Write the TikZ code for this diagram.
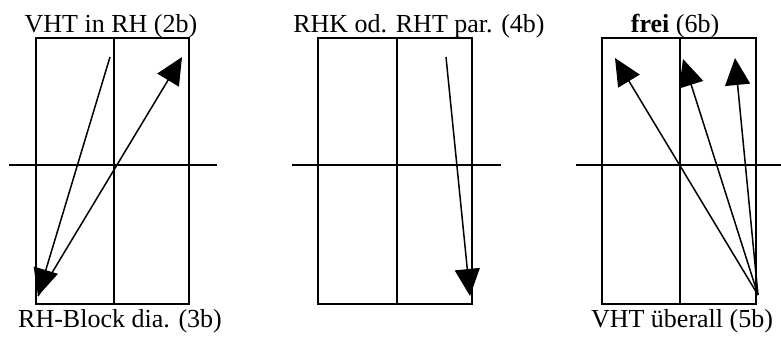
\documentclass[tikz,border=0pt]{standalone}
\usepackage{fontspec}
\setmainfont{Liberation Serif}
\usetikzlibrary{arrows.meta}
\begin{document}
\begin{tikzpicture}[x=1pt,y=-1pt,
  box/.style={line width=1.8pt},
  axis/.style={line width=1.5pt},
  vec/.style={line width=1.5pt,-{Triangle[length=27pt,width=25pt]}},
  lbl/.style={anchor=base,inner sep=0pt,font=\fontsize{26}{30}\selectfont}]
\useasboundingbox (0,0) rectangle (781,338);
% panel 1
\draw[box] (36,38) rectangle (189,304);
\draw[box] (114,38) -- (114,304);
\draw[axis] (9,165) -- (217,165);
\coordinate (a1s) at (110,57);
\coordinate (a1e) at (38,296);
\coordinate (a2e) at (182,57);
\draw[vec] (a1s) -- (a1e);
\draw[vec] (a1e) -- (a2e);
\node[lbl] (t1) at (111,32) {VHT in RH (2b)};
\node[lbl] (b1) at (120,327) {RH-Block dia. (3b)};
% panel 2
\draw[box] (318,38) rectangle (472,304);
\draw[box] (397,38) -- (397,304);
\draw[axis] (292,165) -- (501,165);
\coordinate (b1s) at (446,57);
\coordinate (b1e) at (470,296);
\draw[vec] (b1s) -- (b1e);
\node[lbl] (t2) at (419,32) {RHK od. RHT par. (4b)};
% panel 3
\draw[box] (602,38) rectangle (756,304);
\draw[box] (680,38) -- (680,304);
\draw[axis] (576,165) -- (781,165);
\coordinate (cs) at (758,295);
\coordinate (c1) at (615,58);
\coordinate (c2) at (683,59);
\coordinate (c3) at (735,58);
\draw[vec] (cs) -- (c1);
\draw[vec] (cs) -- (c2);
\draw[vec] (cs) -- (c3);
\node[lbl] (t3) at (675,32) {\textbf{frei} (6b)};
\node[lbl] (b3) at (682,327) {VHT überall (5b)};
\end{tikzpicture}
\end{document}
